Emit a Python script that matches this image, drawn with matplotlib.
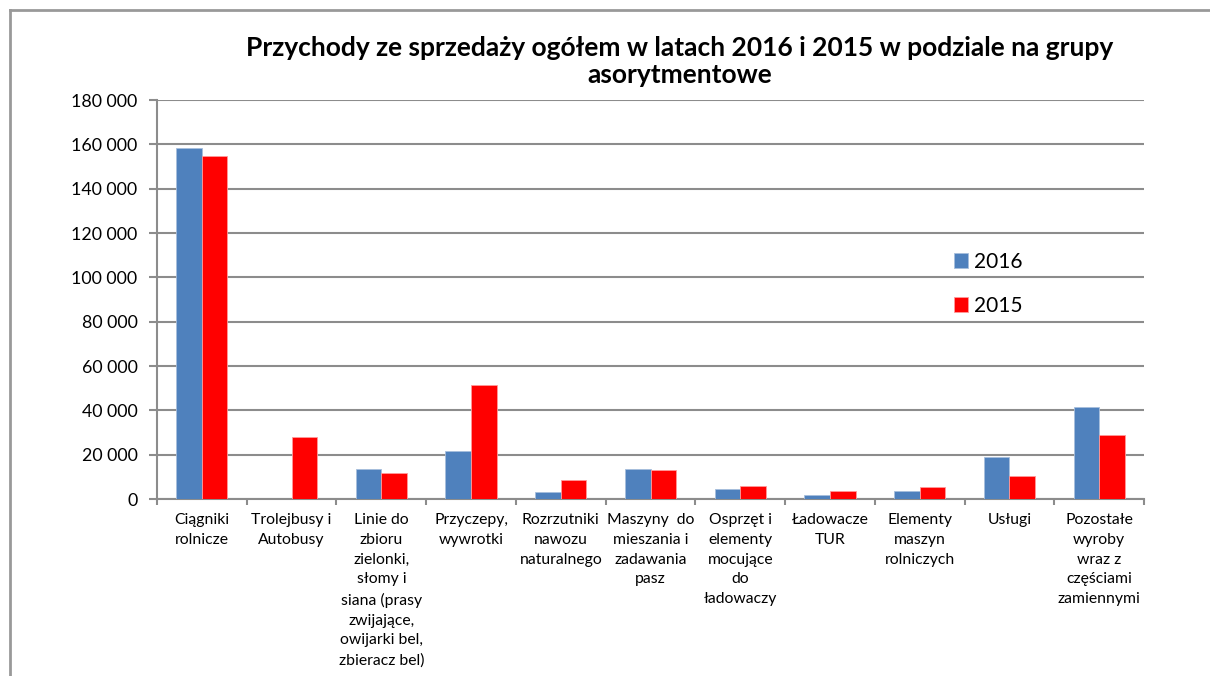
import matplotlib
matplotlib.use("Agg")
import matplotlib.pyplot as plt
import numpy as np
from matplotlib.ticker import FuncFormatter, MultipleLocator

plt.rcParams["font.family"] = ["Lato", "DejaVu Sans"]

# -----------------------------------
# Data
# -----------------------------------
categories = [
    "Ciągniki\nrolnicze",
    "Trolejbusy i\nAutobusy",
    "Linie do\nzbioru\nzielonki,\nsłomy i\nsiana (prasy\nzwijające,\nowijarki bel,\nzbieracz bel)",
    "Przyczepy,\nwywrotki",
    "Rozrzutniki\nnawozu\nnaturalnego",
    "Maszyny  do\nmieszania i\nzadawania\npasz",
    "Osprzęt i\nelementy\nmocujące\ndo\nładowaczy",
    "Ładowacze\nTUR",
    "Elementy\nmaszyn\nrolniczych",
    "Usługi",
    "Pozostałe\nwyroby\nwraz z\nczęściami\nzamiennymi",
]
sales_2016 = [158200, 0, 13500, 21600, 3200, 13400, 4400, 1800, 3600, 19000, 41600]
sales_2015 = [154700, 28100, 11900, 51300, 8600, 12900, 6000, 3600, 5300, 10400, 28700]
series_labels = ["2016", "2015"]

blue = "#4F81BD"
red = "#FF0000"
grid_col = "#8C8C8C"

# -----------------------------------
# Figure / axes
# -----------------------------------
fig = plt.figure(figsize=(12.1, 6.76), dpi=100)
ax = fig.add_axes([157 / 1210, 1 - 499 / 676, 987 / 1210, 399 / 676])

x = np.arange(len(categories))
w = 0.285
b1 = ax.bar(x - w / 2, sales_2016, w, color=blue, edgecolor="#A7BEDC",
            linewidth=0.6, label=series_labels[0], zorder=3)
b2 = ax.bar(x + w / 2, sales_2015, w, color=red, edgecolor="#FF9A9A",
            linewidth=0.6, label=series_labels[1], zorder=3)

ax.set_xlim(-0.5, len(categories) - 0.5)
ax.set_ylim(0, 180000)
ax.yaxis.set_major_locator(MultipleLocator(20000))
ax.yaxis.set_major_formatter(FuncFormatter(lambda v, p: f"{int(v):,}".replace(",", " ")))
ax.grid(axis="y", color=grid_col, linewidth=1.5, zorder=0)
ax.set_axisbelow(True)

for side in ["top", "right"]:
    ax.spines[side].set_visible(False)
for side in ["left", "bottom"]:
    ax.spines[side].set_color(grid_col)
    ax.spines[side].set_linewidth(1.5)

ax.set_xticks(x)
ax.set_xticklabels(categories, fontsize=11.3, linespacing=1.53, va="top")
ax.set_xticks(np.arange(-0.5, len(categories)), minor=True)
ax.tick_params(axis="x", which="major", length=0, pad=10)
ax.tick_params(axis="x", which="minor", length=4, width=1.5, color=grid_col, direction="out")
ax.tick_params(axis="y", length=6, width=1.5, color=grid_col, pad=8, labelsize=12.8)

# -----------------------------------
# Title, legend, chart border
# -----------------------------------
fig.text(680 / 1210, 1 - 61.5 / 676,
         "Przychody ze sprzedaży ogółem w latach 2016 i 2015 w podziale na grupy\nasorytmentowe",
         ha="center", va="center", fontsize=19, fontweight="bold", linespacing=1.15)

fig.legend(handles=[b1, b2], loc="center left",
           bbox_to_anchor=(935 / 1210, 1 - 284 / 676),
           frameon=False, fontsize=15, handlelength=0.7, handleheight=0.7,
           handletextpad=0.25, labelspacing=1.15)

fig.add_artist(plt.Line2D([10 / 1210, 1.0], [1 - 10 / 676, 1 - 10 / 676],
                          transform=fig.transFigure, color="#999999", linewidth=2))
fig.add_artist(plt.Line2D([10 / 1210, 10 / 1210], [0, 1 - 10 / 676],
                          transform=fig.transFigure, color="#999999", linewidth=2))

fig.savefig("out.png", dpi=100)
